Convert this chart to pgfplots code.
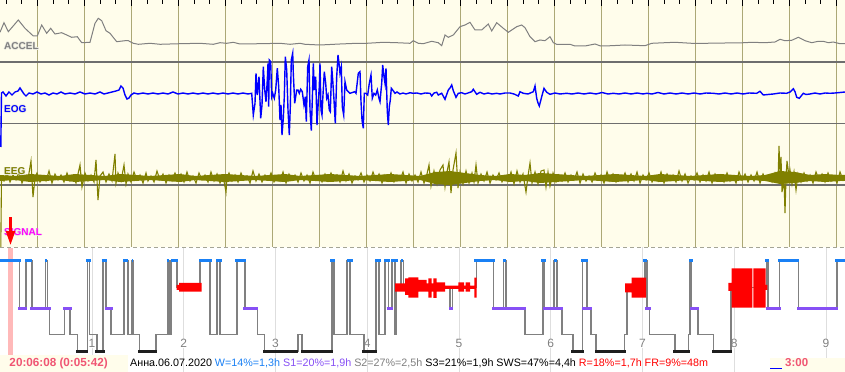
\documentclass[border=0pt]{standalone}
\usepackage{fontspec}
\setmainfont{Liberation Sans}
\usepackage{pgfplots}
\pgfplotsset{compat=1.18}
\usetikzlibrary{arrows.meta}
\definecolor{cream}{RGB}{255,253,235}
\definecolor{glow}{RGB}{235,235,225}
\definecolor{gridolive}{RGB}{172,168,118}
\definecolor{hline}{RGB}{110,110,110}
\definecolor{accel}{RGB}{128,128,128}
\definecolor{eogblue}{RGB}{0,0,255}
\definecolor{eegolive}{RGB}{128,128,0}
\definecolor{wblue}{RGB}{25,128,245}
\definecolor{s1purple}{RGB}{135,80,245}
\definecolor{s2gray}{RGB}{128,128,128}
\definecolor{s3black}{RGB}{30,30,30}
\definecolor{hourgrid}{RGB}{222,222,222}
\definecolor{pinkband}{RGB}{255,185,185}
\definecolor{pinktext}{RGB}{240,85,115}
\definecolor{sigmag}{RGB}{255,0,255}
% channel label with a light halo, as in the recorder's display
\newcommand{\chlabel}[3]{%
  \node[anchor=west, inner sep=0, text=glow, font=\bfseries\fontsize{10bp}{11bp}\selectfont] at ([xshift=0.7bp]axis cs:4,#2) {#3};
  \node[anchor=west, inner sep=0, text=glow, font=\bfseries\fontsize{10bp}{11bp}\selectfont] at ([xshift=-0.7bp]axis cs:4,#2) {#3};
  \node[anchor=west, inner sep=0, text=glow, font=\bfseries\fontsize{10bp}{11bp}\selectfont] at ([yshift=0.7bp]axis cs:4,#2) {#3};
  \node[anchor=west, inner sep=0, text=glow, font=\bfseries\fontsize{10bp}{11bp}\selectfont] at ([yshift=-0.7bp]axis cs:4,#2) {#3};
  \node[anchor=west, inner sep=0, text=#1, font=\bfseries\fontsize{10bp}{11bp}\selectfont] at (axis cs:4,#2) {#3};}
\begin{document}
\begin{tikzpicture}
\useasboundingbox (0,0) rectangle (845bp,372bp);
% ---------------- top panel: ACCEL / EOG / EEG / SIGNAL ----------------
\begin{axis}[
  at={(0,125bp)}, anchor=south west,
  scale only axis, width=845bp, height=247bp,
  xmin=0, xmax=845, ymin=0, ymax=247, y dir=reverse,
  axis background/.style={fill=cream},
  axis line style={draw=none},
  xtick={37.333,84.333,...,840}, minor xtick={6,21.667,...,845},
  xticklabel=\empty, ytick=\empty,
  xtick pos=upper, tick align=inside,
  major tick length=6bp, minor tick length=4bp,
  tick style={black, line width=0.8bp},
  xmajorgrids, x grid style={gridolive, line width=1.3bp},
]
% separators
\addplot[hline, line width=1.2bp] coordinates {(0,62)(845,62)};
\addplot[hline, line width=1.2bp] coordinates {(0,123.5)(845,123.5)};
\addplot[hline, line width=1.2bp] coordinates {(0,185)(845,185)};
% ACCEL
\addplot[accel, line width=1bp] coordinates {
(0,32.3)(4,22.7)(8.3,31.7)(18.3,20)(25,28.3)(33.3,36)(37.3,36)(41.7,25)(46.7,33.3)(50.7,28.3)(55,34)(61.7,32.7)(66.7,35)(71.7,37.3)(77.3,36.7)(81.7,42.7)(90,42.3)(95,23.3)(98.3,18.3)(101.7,20.7)(106,30.7)(110,33.3)(116.7,41.7)(125,40.7)(128.3,40.7)(133.3,43.3)(138.3,44.3)(150,43.3)(160,44.3)(180,43.7)(200,43.3)(213.3,44.3)(220,42.7)(226.7,43.3)(233.3,42.3)(240,44)(260,43.7)(280,43.3)(290,44.3)(300,43.3)(305,44.3)(320,45)(340,44)(356.7,43.3)(366.7,43.3)(383.3,42.3)(396.7,42.7)(410,43.3)(413.3,40.7)(418.3,43.3)(423.3,43.7)(431.7,41.3)(438.3,42.7)(441.7,45.7)(445,35)(448.3,37.3)(453.3,35)(460,26.7)(465,25)(470,22.3)(475,30)(481.7,30)(488.3,24)(491.7,31)(496.7,22.7)(503.3,28.3)(508.3,32.3)(516.7,26.7)(521.7,25)(525,27.7)(530,36.7)(535,41.7)(540,40)(545,40.7)(550,36.7)(553.3,42.7)(556.7,44.3)(570,44.3)(575,46)(585,46)(595,44)(600.7,46)(611.7,45.7)(625,45)(645,45.7)(651.7,43.3)(665,42.7)(675,42.3)(691.7,43.3)(705,43.3)(725,43)(738.3,43)(751.7,42.3)(765,42.7)(775,42)(780,39.3)(785,40.7)(791.7,40.3)(798.3,37.3)(805,40.7)(811.7,42.7)(818.3,41.3)(823.3,41.3)(828.3,42.7)(833.3,42)(840,43.7)(845,43.7)};
% EOG
\addplot[eogblue, line width=1.4bp] coordinates {
(0.8,147)(1.5,93)(3,92)(6,96)(9,92)(12,95)(15,92)(18,91)(20,88)(22,91)(24,94)(26,96)(29,93)(33,94)(37,92)(41,94)(45,93)(49,95)(53,93)(57,94)(61,92)(65,94)(70,93)(75,94)(80,92)(85,94)(90,93)(95,94)(100,92)(104,94)(108,93)(112,92)(116,91)(119,90)(121,86)(123,88)(125,95)(127,99)(129,98)(131,95)(134,93)(138,94)(143,93)(148,94)(153,93)(158,94)(163,93)(168,94)(173,92)(178,94)(183,93)(188,94)(193,93)(198,94)(203,93)(208,94)(213,93)(218,94)(223,93)(228,94)(233,93)(238,94)(243,93)(248,94)
(251.7,93.3)(253.3,115)(255,103.3)(256,73.3)(257.3,95)(259,76.7)(260.7,118.3)(262,105)(263.3,66.7)(264.7,90)(266,101.7)(267.3,80)(268,63.3)(268.7,106.7)(269.3,60)(270.7,61.7)(271.7,96.7)(272.7,93.3)(274.3,98.3)(275.7,90)(277.3,68.3)(278.7,86.7)(280,120)(281,105)(282,135)(283.3,118.3)(284.3,96.7)(285.3,56.7)(286.7,70)(288,110)(289.3,135)(290.3,106.7)(291.3,60)(292.7,53.3)(293.3,73.3)(294.7,103.3)(296.7,90)(298,90)(299.3,93.3)(300.7,89.3)(302.3,91.7)(304,105)(305.3,96.7)(306.3,121.7)(307.7,66.7)(309,60)(310,110)(311.3,130.7)(312.3,100)(313.3,63.3)(314.3,90)(315.7,76.7)(317,125)(318.3,101.7)(319.3,86.7)(320,63.3)(321,110)(322,115)(322.7,100)(324.3,71.7)(325.7,83.3)(326.7,98.3)(328,95)(329.3,110)(330.3,111.7)(331.7,66.7)(332.7,80)(334,100)(335.3,123.3)(336.7,76.7)(338,55)(339,63.3)(340,73.3)(341.3,66.7)(342.3,106.7)(343.7,115)(345,81.7)(346.7,90)(348.3,91.7)(350,93.3)(354.7,91.7)(356,93.3)(358.3,73.3)(360,71.7)(361,101.7)(362,120)(363.3,128.3)(364.3,93.3)(366,93.3)(367.7,95)(369.3,83.3)(371,75)(372.3,98.3)(374,93.3)(375.7,95)(377.3,90)(379,98.3)(380,101.7)(381.7,83.3)(382.7,65)(384,76.7)(385,83.3)(386,68.3)(387.3,111.7)(388.3,125)(389.3,106.7)(390.3,100)(391.3,88.3)(392.7,90)
(395,93.3)(397,92)(400,94)(403,93)(406,94)(410,92.7)(413,93.3)(417,93)(421,94)(425,93)(430,93.3)(431.7,96)(434,93)(436.7,92.3)(438.3,95)(441.7,93.3)(445,99.3)(446.5,95)(448.3,90)(450,88)(451.7,85)(453.3,90.7)(456,97.3)(458.3,93.3)(461.7,92.7)(465,94)(468,93)(471.7,91.7)(473.3,89.3)(476.7,94.3)(480,92.3)(484,94)(488,93)(492,94)(496.7,93.3)(500,94)(505,93)(510,93)(514,94)(518.3,96)(520,91.7)(523.3,93.3)(528,94)(533.3,91.7)(535,86)(536.7,98.3)(538,103)(539.3,106)(541.7,96.7)(544,88.3)(546.7,92.3)(550,94.3)(555,93)(560,94)(566.7,93.3)(572,94)(578,93)(584,94)(590,93)(596,94)(602,92.5)(608,94)(613.3,93.3)(619,94)(625,93)(631,94)(637,93)(643,94)(646.7,93.3)(652,94)(658,92.5)(664,94)(670,93)(676,94)(682,93)(688,94)(694,93)(700,94)(706,93)(713.3,93.3)(719,94)(725,93)(731,94)(737,93)(743,94)(749,93)(756.7,93.3)(760,91.3)(763.3,95)(768,94.5)(773.3,94)(780,93)(786.7,93.3)(790,92)(793.3,88.7)(795,91.7)(796.7,97.3)(799.3,98.3)(803.3,93.3)(806,94.5)(810,94)(815,93)(820,94)(825,93)(830,93.3)(835,93)(840,92.5)(845,92)};
% EEG: dense core of the trace (envelope)
\addplot[fill=eegolive, draw=none] coordinates {
(0,175)(15,176)(30,174)(45,175)(60,176)(75,174)(90,175)(105,176)(120,174)(135,175)(150,176)(165,175)(180,174)(195,176)(210,175)(225,174)(240,175)(255,176)(270,175)(285,174)(300,176)(315,175)(330,174)(345,175)(360,176)(375,175)(390,174)(405,175)(420,176)(435,172)(450,171)(465,173)(480,175)(495,176)(510,174)(525,175)(540,173)(555,174)(570,175)(585,176)(600,175)(615,174)(630,175)(645,176)(660,174)(675,175)(690,176)(705,175)(720,174)(735,175)(750,176)(765,175)(780,171)(795,172)(810,175)(825,174)(840,175)(845,175)
(845,181)(840,181)(825,182)(810,181)(795,183)(780,184)(765,181)(750,180)(735,181)(720,182)(705,181)(690,180)(675,181)(660,182)(645,180)(630,181)(615,182)(600,181)(585,180)(570,181)(555,182)(540,183)(525,181)(510,182)(495,180)(480,181)(465,183)(450,185)(435,184)(420,180)(405,181)(390,182)(375,181)(360,180)(345,181)(330,182)(315,181)(300,180)(285,182)(270,181)(255,180)(240,181)(225,182)(210,181)(195,180)(180,182)(165,181)(150,180)(135,181)(120,182)(105,180)(90,181)(75,182)(60,180)(45,181)(30,182)(15,180)(0,181)} --cycle;
% EEG trace
\addplot[eegolive, line width=1.1bp] coordinates {
(0.8,247)(1.5,178)(4,181)(7,173)(10,182)(13,175)(16,180)(19,172)(22,183)(25,176)(28,179)
(31,161)(33,197)(35,178)(37,173)(40,182)(43,176)(46,181)(49,171)(52,183)(55,174)(58,180)
(61,175)(64,182)(67,173)(70,181)(73,176)(76,183)(78,174)(80,165)(82,187)(85,173)(88,181)
(91,175)(94,182)(96,160)(98,200)(100,176)(103,172)(106,182)(109,174)(112,181)(115,154)(116,183)(118,173)
(121,181)(124,165)(126,184)(128,174)(131,182)(134,172)(137,180)(140,175)(143,183)(146,173)(148,181)
(151,176)(154,182)(157,171)(160,180)(163,174)(166,183)(169,175)(172,181)(175,173)(178,180)
(181,174)(184,182)(187,172)(190,181)(193,176)(196,183)(199,173)(202,180)(205,175)(208,182)
(211,172)(214,181)(217,174)(220,183)(223,176)(226,192)(227,178)(229,173)(232,181)(235,175)(238,182)
(241,173)(244,180)(247,176)(250,183)(253,171)(256,181)(259,174)(262,182)(265,175)(268,180)
(271,173)(274,182)(277,176)(280,181)(283,172)(286,183)(289,174)(292,180)(295,175)(298,182)
(301,173)(304,181)(307,175)(310,183)(313,172)(316,180)(319,176)(322,182)(325,174)(328,181)
(331,173)(334,180)(337,175)(340,182)(343,171)(346,181)(349,174)(352,183)(355,176)(358,180)
(361,173)(364,182)(367,175)(370,181)(373,172)(376,180)(379,174)(382,183)(385,175)(388,181)
(391,173)(394,182)(397,176)(400,180)(403,172)(406,183)(409,174)(412,181)(415,175)(418,182)
(421,172)(424,183)(427,174)(429,165)(431,186)(434,171)(437,184)(440,170)(443,165)(445,187)(447,172)
(449,162)(451,193)(453,170)(456,153)(458,188)(460,172)(463,184)(466,171)(469,183)(472,173)(474,182)(476,165)(478,183)
(481,174)(484,181)(487,172)(490,183)(493,175)(496,180)(499,173)(502,182)(505,176)(508,181)
(511,172)(514,184)(517,171)(520,182)(523,174)(526,192)(528,176)(530,163)(532,183)(535,172)(538,184)
(541,171)(544,170)(546,187)(548,172)(550,186)(553,173)(556,182)(559,175)(562,181)(565,173)(568,182)
(571,175)(574,180)(577,172)(580,183)(583,174)(586,181)(589,176)(592,182)(595,173)(598,180)
(601,175)(604,183)(607,172)(610,181)(613,174)(616,182)(619,176)(622,180)(625,173)(628,182)
(631,174)(634,181)(637,172)(640,183)(643,175)(646,180)(649,173)(652,182)(655,176)(658,181)
(661,172)(664,183)(667,174)(670,180)(673,175)(676,182)(679,171)(682,181)(685,174)(688,183)
(691,176)(694,180)(697,173)(700,182)(703,175)(706,181)(709,172)(712,183)(715,174)(718,180)
(721,175)(724,182)(727,173)(730,181)(733,176)(736,183)(739,172)(742,180)(745,174)(748,182)
(751,175)(754,181)(757,172)(760,183)(763,174)(766,180)(769,176)(772,182)(775,173)(778,181)
(779,146)(780,175)(781,157)(782,192)(784,180)(785,213)(786,178)(787,161)(789,176)(790,170)(792,184)(794,172)(796,190)(798,174)(801,182)(804,173)(807,181)
(810,175)(813,183)(816,172)(819,180)(822,174)(825,182)(828,173)(831,181)(834,176)(837,183)(840,172)(843,180)(845,176)};
% channel labels
\chlabel{accel}{46}{ACCEL}
\chlabel{eogblue}{109}{EOG}
\chlabel{eegolive}{171.5}{EEG}
\chlabel{sigmag}{232.5}{SIGNAL}
\addplot[red, line width=2.3bp, -{Triangle[length=14bp,width=9bp]}] coordinates {(10.5,217)(10.5,245)};
\end{axis}
% ---------------- bottom panel: hypnogram ----------------
\begin{axis}[
  at={(0,0)}, anchor=south west,
  scale only axis, width=845bp, height=125bp,
  xmin=0, xmax=845, ymin=247, ymax=372, y dir=reverse,
  axis background/.style={fill=white},
  axis line style={draw=none},
  xtick={92,183.75,275.5,367.25,459,550.75,642.5,734.25,826}, xticklabel=\empty,
  ytick=\empty, tick style={draw=none},
  xmajorgrids, x grid style={hourgrid, line width=1bp},
  unbounded coords=jump,
]
\addplot[draw={rgb,255:red,165;green,165;blue,150}, line width=1bp, dash pattern=on 4bp off 3bp] coordinates {(0,247.6)(845,247.6)};
% hour labels
\node[text=s2gray, fill=white, inner sep=0.6bp, font=\fontsize{12bp}{13bp}\selectfont] at (axis cs:92,343.5) {1};
\node[text=s2gray, fill=white, inner sep=0.6bp, font=\fontsize{12bp}{13bp}\selectfont] at (axis cs:183.75,343.5) {2};
\node[text=s2gray, fill=white, inner sep=0.6bp, font=\fontsize{12bp}{13bp}\selectfont] at (axis cs:275.5,343.5) {3};
\node[text=s2gray, fill=white, inner sep=0.6bp, font=\fontsize{12bp}{13bp}\selectfont] at (axis cs:367.25,343.5) {4};
\node[text=s2gray, fill=white, inner sep=0.6bp, font=\fontsize{12bp}{13bp}\selectfont] at (axis cs:459,343.5) {5};
\node[text=s2gray, fill=white, inner sep=0.6bp, font=\fontsize{12bp}{13bp}\selectfont] at (axis cs:550.75,343.5) {6};
\node[text=s2gray, fill=white, inner sep=0.6bp, font=\fontsize{12bp}{13bp}\selectfont] at (axis cs:642.5,343.5) {7};
\node[text=s2gray, fill=white, inner sep=0.6bp, font=\fontsize{12bp}{13bp}\selectfont] at (axis cs:734.25,343.5) {8};
\node[text=s2gray, fill=white, inner sep=0.6bp, font=\fontsize{12bp}{13bp}\selectfont] at (axis cs:826,343.5) {9};
% current-position band
\addplot[fill=pinkband, draw=none] coordinates {(8.3,248)(12.7,248)(12.7,355.5)(8.3,355.5)} --cycle;
% hypnogram steps (W=260.5, R=287.5, S1=308.5, S2=334.5, S3=351)
\addplot[const plot, s2gray, line width=1.6bp] coordinates {
(0,260.5)(19.3,308.5)(26,260.5)(31.7,308.5)(45.3,260.5)(47.3,308.5)(49.3,334.5)(64.3,308.5)(70,334.5)(77.3,351)(87.3,260.5)(89.3,334.5)(96.7,351)(102.7,260.5)(106,308.5)(110.7,334.5)(124,260.5)(127.7,334.5)(131.7,260.5)(133,334.5)(139.3,351)(155.7,334.5)(167.3,260.5)(169,334.5)(171,260.5)(176.7,287.5)(200,260.5)(210,334.5)(216.7,260.5)(220,334.5)(236.7,260.5)(245,308.5)(257.3,334.5)(264.3,351)(297.7,334.5)(301.7,351)(331.7,260.5)(334,334.5)(347,260.5)(350,334.5)(364,351)(376,260.5)(379,334.5)(385,260.5)(388.3,308.5)(391.7,260.5)(395,334.5)(395.7,287.5)(401,260.5)(403.3,287.5)(450,308.5)(452.3,287.5)(476.3,260.5)(493.3,308.5)(503.3,260.5)(505.7,308.5)(525,334.5)(542.7,260.5)(544.3,308.5)(554,260.5)(556.7,308.5)(561.7,334.5)(572.7,351)(582.3,260.5)(587,308.5)(590.7,334.5)(596,351)(624.3,334.5)(626.7,287.5)(645,260.5)(646.7,308.5)(649.3,334.5)(675,351)(688.3,334.5)(690,260.5)(691,308.5)(697.7,334.5)(713.3,351)(730.7,287.5)(766.7,260.5)(768,308.5)(779.3,260.5)(798.3,308.5)(836.7,260.5)(845,260.5)};
% S3 (deep sleep)
\addplot[s3black, line width=3bp] coordinates {
(76,351)(88.3,351)(88.4,nan)(95,351)(105,351)(105.1,nan)(138.3,351)(156.7,351)(156.8,nan)(263.3,351)(298.3,351)(298.4,nan)(301,351)(332.7,351)(332.8,nan)(362.3,351)(376.7,351)(376.8,nan)(571,351)(584,351)(584.1,nan)(595,351)(625.7,351)(625.8,nan)(673.3,351)(690,351)(690.1,nan)(712.3,351)(731.7,351)};
% S1
\addplot[s1purple, line width=3bp] coordinates {
(18.3,308.5)(27.3,308.5)(27.4,nan)(30,308.5)(50.7,308.5)(50.8,nan)(63.3,308.5)(71.7,308.5)(71.8,nan)(105,308.5)(112.7,308.5)(112.8,nan)(243.3,308.5)(258.3,308.5)(258.4,nan)(386.7,308.5)(393.3,308.5)(393.4,nan)(449,308.5)(453.3,308.5)(453.4,nan)(492.3,308.5)(526,308.5)(526.1,nan)(543.3,308.5)(562.7,308.5)(562.8,nan)(582.3,308.5)(591.7,308.5)(591.8,nan)(645,308.5)(650.7,308.5)(650.8,nan)(690,308.5)(699.3,308.5)(699.4,nan)(766,308.5)(780.7,308.5)(780.8,nan)(797.3,308.5)(837.7,308.5)};
% W (wake)
\addplot[wblue, line width=3.2bp] coordinates {
(0,260.5)(20.7,260.5)(20.8,nan)(25,260.5)(32.3,260.5)(32.4,nan)(45,260.5)(47.3,260.5)(47.4,nan)(86,260.5)(90.7,260.5)(90.8,nan)(101.7,260.5)(107.3,260.5)(107.4,nan)(123.3,260.5)(128.3,260.5)(128.4,nan)(131.7,260.5)(133.3,260.5)(133.4,nan)(166.7,260.5)(169.3,260.5)(169.4,nan)(171,260.5)(178.3,260.5)(178.4,nan)(199.3,260.5)(211.7,260.5)(211.8,nan)(216,260.5)(221.7,260.5)(221.8,nan)(235.3,260.5)(246,260.5)(246.1,nan)(330,260.5)(335,260.5)(335.1,nan)(346.7,260.5)(352.7,260.5)(352.8,nan)(375,260.5)(380.5,260.5)(380.6,nan)(384,260.5)(390,260.5)(390.1,nan)(391,260.5)(397.7,260.5)(397.8,nan)(401,260.5)(403.3,260.5)(403.4,nan)(474.3,260.5)(495,260.5)(495.1,nan)(503.3,260.5)(505.7,260.5)(505.8,nan)(541,260.5)(545.7,260.5)(545.8,nan)(554,260.5)(556.7,260.5)(556.8,nan)(581,260.5)(587.7,260.5)(587.8,nan)(643.3,260.5)(647.3,260.5)(647.4,nan)(689,260.5)(692.7,260.5)(692.8,nan)(765,260.5)(769,260.5)(769.1,nan)(778.3,260.5)(799.3,260.5)(799.4,nan)(835,260.5)(845,260.5)};
% R (REM) episodes, thickness as drawn
\addplot[fill=red, draw=none] coordinates {(176.7,285)(179,285)(179,283)(201.7,283)(201.7,291.7)(179,291.7)(179,290)(176.7,290)} --cycle;
\addplot[fill=red, draw=none] coordinates {(395,283.3)(405,283.3)(405,278.3)(408.3,278.3)(408.3,277.3)(418.3,277.3)(418.3,280)(426.7,280)(426.7,283.3)(428.3,283.3)(428.3,278.3)(431.7,278.3)(431.7,283.3)(433.3,283.3)(433.3,278.3)(436.7,278.3)(436.7,282.3)(445,282.3)(445,285.7)(458.3,285.7)(458.3,282.3)(464,282.3)(464,285.7)(465.7,285.7)(465.7,282.3)(470,282.3)(470,285.7)(474.3,285.7)(474.3,277.7)(476.7,277.7)(476.7,297.7)(474.3,297.7)(474.3,289)(470,289)(470,291.7)(465.7,291.7)(465.7,289)(464,289)(464,291.7)(458.3,291.7)(458.3,289)(445,289)(445,291.7)(436.7,291.7)(436.7,298)(433.3,298)(433.3,291.7)(431.7,291.7)(431.7,297.7)(428.3,297.7)(428.3,291.7)(418.3,291.7)(418.3,297.7)(408.3,297.7)(408.3,295)(405,295)(405,291.7)(395,291.7)} --cycle;
\addplot[fill=red, draw=none] coordinates {(625,283.3)(631.7,283.3)(631.7,277.7)(646,277.7)(646,297.7)(631.7,297.7)(631.7,292.3)(625,292.3)} --cycle;
\addplot[fill=red, draw=none] coordinates {(728.3,283)(731.7,283)(731.7,268.3)(752.3,268.3)(752.3,307.7)(731.7,307.7)(731.7,291)(728.3,291)} --cycle;
\addplot[fill=red, draw=none] coordinates {(753.3,268.3)(765.7,268.3)(765.7,285)(767.3,285)(767.3,290)(765.7,290)(765.7,307.7)(753.3,307.7)} --cycle;
% status bar
\addplot[fill=cream, draw=none] coordinates {(0,355.3)(128.3,355.3)(128.3,372)(0,372)} --cycle;
\addplot[fill=cream, draw=none] coordinates {(770,357.7)(845,357.7)(845,372)(770,372)} --cycle;
\addplot[blue, line width=1bp] coordinates {(770,368.5)(781.7,368.5)};
\node[anchor=west, inner sep=0, text=pinktext, font=\bfseries\fontsize{11.7bp}{13bp}\selectfont] at (axis cs:9.3,363.5) {20:06:08 (0:05:42)};
\node[anchor=west, inner sep=0, font=\fontsize{10.75bp}{13bp}\selectfont] at (axis cs:130,363.5) {Анна.06.07.2020 \textcolor{wblue}{W=14\%=1,3h} \textcolor{s1purple}{S1=20\%=1,9h} \textcolor{s2gray}{S2=27\%=2,5h} S3=21\%=1,9h SWS=47\%=4,4h \textcolor{red}{R=18\%=1,7h FR=9\%=48m}};
\node[anchor=west, inner sep=0, text=pinktext, font=\bfseries\fontsize{11.5bp}{13bp}\selectfont] at (axis cs:785,362.5) {3:00};
\end{axis}
\end{tikzpicture}
\end{document}
